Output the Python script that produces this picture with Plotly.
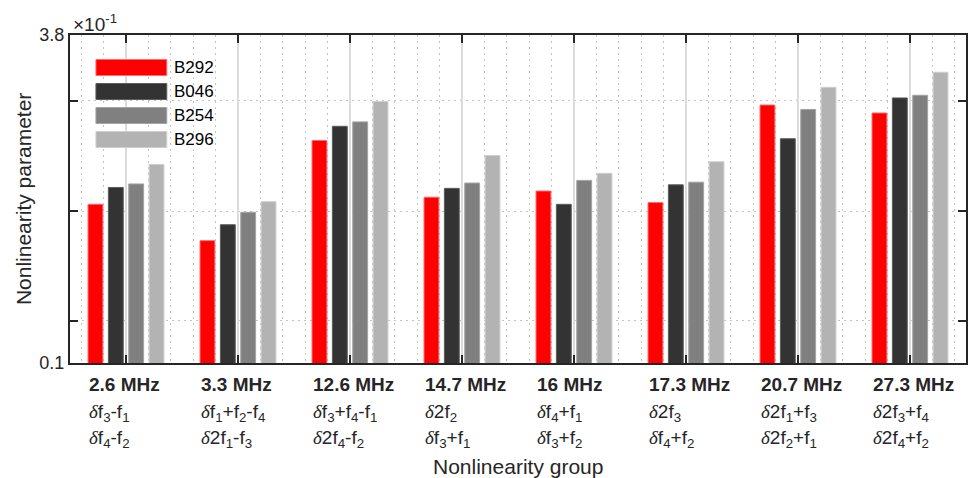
import re
import plotly.graph_objects as go

# ---- data -------------------------------------------------------------
groups = ["2.6 MHz", "3.3 MHz", "12.6 MHz", "14.7 MHz",
          "16 MHz", "17.3 MHz", "20.7 MHz", "27.3 MHz"]
terms_a = ["δf_3-f_1", "δf_1+f_2-f_4", "δf_3+f_4-f_1", "δ2f_2",
           "δf_4+f_1", "δ2f_3", "δ2f_1+f_3", "δ2f_3+f_4"]
terms_b = ["δf_4-f_2", "δ2f_1-f_3", "δ2f_4-f_2", "δf_3+f_1",
           "δf_3+f_2", "δf_4+f_2", "δ2f_2+f_1", "δ2f_4+f_2"]

series_names = ["B292", "B046", "B254", "B296"]
b292 = [1.89, 1.48, 2.61, 1.97, 2.04, 1.91, 3.01, 2.92]
b046 = [2.08, 1.66, 2.77, 2.07, 1.89, 2.11, 2.63, 3.09]
b254 = [2.12, 1.80, 2.82, 2.13, 2.16, 2.14, 2.96, 3.12]
b296 = [2.34, 1.92, 3.05, 2.44, 2.24, 2.37, 3.21, 3.38]
series_values = [b292, b046, b254, b296]

y_min, y_max = 0.1, 3.8
y_grid = [0.574, 1.814, 3.058]

# ---- styling ----------------------------------------------------------
fill_colors = ["#ff0000", "#333333", "#808080", "#b3b3b3"]
edge_colors = ["#ff6a6a", "#5c5c5c", "#a3a3a3", "#cfcfcf"]
ink = "#262626"
font_family = "Arial, 'Liberation Sans', sans-serif"
BARGAP, GROUPGAP = 0.273, 0.27

W, H = 968, 478
ML, MR, MT, MB = 70, 0, 35, 115
plot_w, plot_h = W - ML - MR, H - MT - MB


def fmt(term):
    """Render a term like 'δ2f_1+f_3' with an italic serif delta and subscripts."""
    body = re.sub(r"_(\d)", r"<sub>\1</sub>", term[1:])
    return ("<span style=\"font-family:'Liberation Serif', 'Times New Roman', serif\">"
            "<i>δ</i></span>" + body)


def px_x(px):
    return (px - ML) / plot_w


def px_y(py):
    return (H - MB - py) / plot_h


xs = list(range(1, len(groups) + 1))

fig = go.Figure()
for name, vals, fc, ec in zip(series_names, series_values, fill_colors, edge_colors):
    fig.add_trace(go.Bar(
        x=xs, y=vals, name=name, showlegend=False,
        marker=dict(color=fc, line=dict(color=ec, width=1)),
    ))

annotations = []
shapes = []

# category labels, left-aligned with the first bar of each group
slot = (1 - BARGAP) / len(series_names)
left_off = (1 - BARGAP) / 2 - slot * GROUPGAP / 2
for x, g, a, b in zip(xs, groups, terms_a, terms_b):
    for text, shift in [(f"<b>{g}</b>", -21), (fmt(a), -50), (fmt(b), -76)]:
        annotations.append(dict(
            x=x - left_off, xref="x", y=0, yref="paper",
            xanchor="left", yanchor="middle", yshift=shift, xshift=-1,
            text=text, showarrow=False, align="left",
            font=dict(size=19, color=ink, family=font_family)))

# axis titles and exponent
annotations.append(dict(
    x=0.5, xref="paper", y=0, yref="paper", yanchor="middle", yshift=-103,
    text="Nonlinearity group", showarrow=False,
    font=dict(size=21, color=ink, family=font_family)))
annotations.append(dict(
    x=px_x(23), xref="paper", y=px_y(199), yref="paper",
    xanchor="center", yanchor="middle", textangle=-90,
    text="Nonlinearity parameter", showarrow=False,
    font=dict(size=21, color=ink, family=font_family)))
annotations.append(dict(
    x=0, xref="paper", y=1, yref="paper", xanchor="left", yanchor="bottom",
    xshift=1, yshift=-2, text="×10<sup>-1</sup>", showarrow=False,
    font=dict(size=19, color=ink, family=font_family)))

# legend box with wide swatches
for i, (name, fc, ec) in enumerate(zip(series_names, fill_colors, edge_colors)):
    cy = 67.5 + 24 * i
    shapes.append(dict(
        type="rect", xref="paper", yref="paper",
        x0=px_x(96), x1=px_x(167), y0=px_y(cy + 8), y1=px_y(cy - 8),
        fillcolor=fc, line=dict(color=ec, width=1), layer="above"))
    annotations.append(dict(
        x=px_x(172), xref="paper", y=px_y(cy), yref="paper",
        xanchor="left", yanchor="middle", text=name, showarrow=False,
        font=dict(size=17, color="#000000", family=font_family)))

fig.update_layout(
    width=W, height=H,
    margin=dict(l=ML, r=MR, t=MT, b=MB, pad=0),
    paper_bgcolor="white", plot_bgcolor="white",
    barmode="group", bargap=BARGAP, bargroupgap=GROUPGAP,
    font=dict(family=font_family, color=ink),
    annotations=annotations, shapes=shapes,
    showlegend=False,
)

fig.update_xaxes(
    range=[0.5, len(groups) + 0.5],
    tickmode="array", tickvals=xs, showticklabels=False,
    ticks="inside", ticklen=8, tickwidth=2, tickcolor=ink,
    showline=True, linewidth=2, linecolor=ink, mirror="ticks",
    showgrid=True, gridcolor="#dcdcdc", gridwidth=1.5,
    minor=dict(dtick=0.2, tick0=0, ticks="", showgrid=True,
               gridcolor="#c4c4c4", griddash="2px,4px", gridwidth=1),
    zeroline=False, fixedrange=True,
)

fig.update_yaxes(
    range=[y_min, y_max],
    tickmode="array", tickvals=[y_min, y_max],
    ticktext=[f"{y_min:g}", f"{y_max:g}"],
    ticks="inside", ticklen=8, tickwidth=2, tickcolor=ink,
    tickfont=dict(size=18, color=ink, family=font_family),
    showline=True, linewidth=2, linecolor=ink, mirror="ticks",
    showgrid=False,
    minor=dict(tickmode="array", tickvals=y_grid, ticks="inside",
               ticklen=8, tickwidth=2, tickcolor=ink, showgrid=True,
               gridcolor="#c4c4c4", griddash="2px,4px", gridwidth=1),
    zeroline=False, fixedrange=True,
)

fig.write_html("out.html")
